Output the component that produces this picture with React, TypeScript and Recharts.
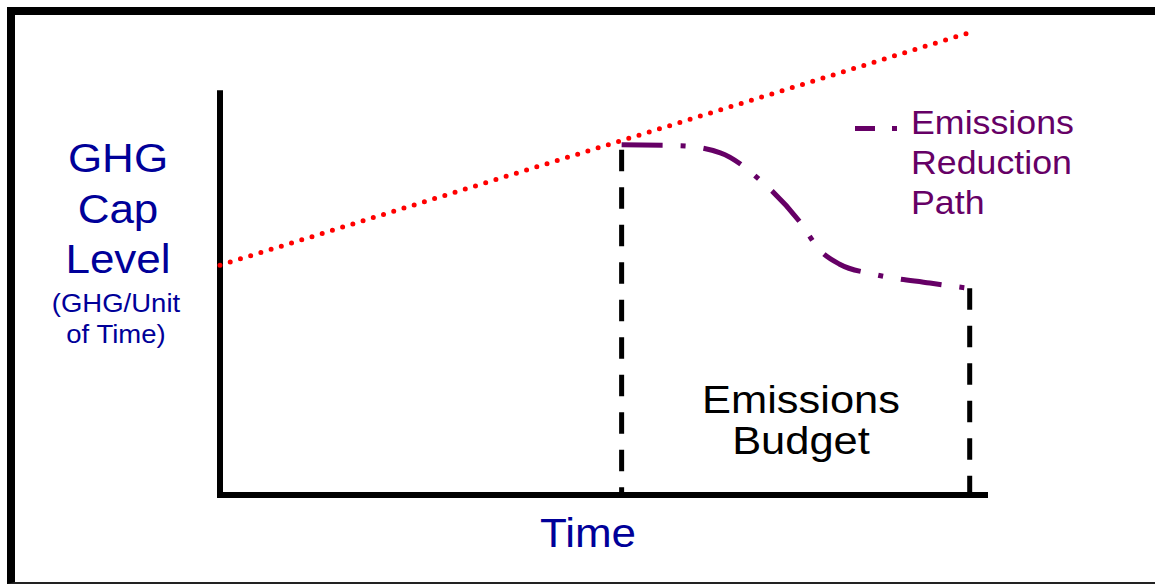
import { ComposedChart, Line, XAxis, YAxis, ReferenceLine } from "recharts";

// cap level over time (red dotted line)
const capTime = [0, 97.8];
const capLevel = [48.9, 98.3];

// emissions reduction path (purple dash-dot)
const pathTime = [52.5, 60.1, 65.4, 70.6, 75.8, 78.4, 81.0, 85.4, 92.8, 97.8];
const pathLevel = [74.5, 74.3, 72.8, 67.0, 58.1, 52.1, 49.1, 47.0, 45.1, 44.0];

// budget window edges
const budgetStart = 52.5;
const budgetEnd = 98.0;
const levelAxisTop = 85.5;

const yLabelMain = ["GHG", "Cap", "Level"];
const yLabelUnit = ["(GHG/Unit", "of Time)"];
const xLabel = "Time";
const budgetLabel = ["Emissions", "Budget"];
const legendLabel = ["Emissions", "Reduction", "Path"];

const FONT = '"Liberation Sans", Arial, sans-serif';
const NAVY = "#000099";
const PURPLE = "#660066";
const STRETCH = "scaleX(1.1)";

const capData = capTime.map((t, i) => ({ t, v: capLevel[i] }));
const pathData = pathTime.map((t, i) => ({ t, v: pathLevel[i] }));
const startEdge = [
  { t: budgetStart, v: pathLevel[0] },
  { t: budgetStart, v: 0 },
];
const endEdge = [
  { t: budgetEnd, v: pathLevel[pathLevel.length - 1] },
  { t: budgetEnd, v: 0 },
];

function TextBlock({
  lines,
  cx,
  left,
  top,
  size,
  lineHeight,
  color,
}: {
  lines: string[];
  cx?: number;
  left?: number;
  top: number;
  size: number;
  lineHeight: number;
  color: string;
}) {
  const centered = cx !== undefined;
  const w = 300;
  return (
    <div
      style={{
        position: "absolute",
        left: centered ? cx - w / 2 : left,
        top,
        width: w,
        textAlign: centered ? "center" : "left",
        fontFamily: FONT,
        fontSize: size,
        lineHeight: `${lineHeight}px`,
        color,
        whiteSpace: "nowrap",
        transform: STRETCH,
        transformOrigin: centered ? "center" : "left",
        pointerEvents: "none",
      }}
    >
      {lines.map((l) => (
        <div key={l}>{l}</div>
      ))}
    </div>
  );
}

export default function App() {
  return (
    <div
      style={{
        position: "absolute",
        left: 0,
        top: 0,
        width: 1155,
        height: 585,
        overflow: "hidden",
        background: "#fff",
      }}
    >
      <div
        style={{
          position: "absolute",
          left: 7,
          top: 7,
          width: 1200,
          height: 577,
          boxSizing: "border-box",
          borderTop: "8px solid #000",
          borderLeft: "8px solid #000",
          borderBottom: "2px solid #222",
        }}
      />

      <div style={{ position: "absolute", left: 0, top: 0 }}>
        <ComposedChart
          width={1155}
          height={585}
          margin={{ top: 25, right: 170, bottom: 0, left: 220 }}
        >
          <XAxis
            type="number"
            dataKey="t"
            domain={[0, 100]}
            height={90}
            tick={false}
            tickLine={false}
            axisLine={{ stroke: "#000", strokeWidth: 6, strokeLinecap: "square" }}
          />
          <YAxis type="number" dataKey="v" domain={[0, 100]} hide />

          <ReferenceLine
            segment={[
              { x: 0, y: 0 },
              { x: 0, y: levelAxisTop },
            ]}
            stroke="#000"
            strokeWidth={6}
            strokeLinecap="square"
          />

          <Line
            data={startEdge}
            dataKey="v"
            type="linear"
            stroke="#000"
            strokeWidth={5}
            strokeDasharray="21.5 16"
            strokeDashoffset={-5}
            dot={false}
            activeDot={false}
            isAnimationActive={false}
          />
          <Line
            data={endEdge}
            dataKey="v"
            type="linear"
            stroke="#000"
            strokeWidth={5}
            strokeDasharray="21.5 16"
            dot={false}
            activeDot={false}
            isAnimationActive={false}
          />
          <Line
            data={capData}
            dataKey="v"
            type="linear"
            stroke="#ff0000"
            strokeWidth={5}
            strokeDasharray="0 10.7"
            strokeLinecap="round"
            dot={false}
            activeDot={false}
            isAnimationActive={false}
          />
          <Line
            data={pathData}
            dataKey="v"
            type="monotone"
            stroke={PURPLE}
            strokeWidth={5}
            strokeDasharray="41 18 5 18"
            dot={false}
            activeDot={false}
            isAnimationActive={false}
          />
        </ComposedChart>
      </div>

      <TextBlock lines={yLabelMain} cx={118} top={133} size={40} lineHeight={50.5} color={NAVY} />
      <TextBlock lines={yLabelUnit} cx={116} top={288} size={25} lineHeight={31} color={NAVY} />
      <TextBlock lines={[xLabel]} cx={588} top={512} size={40} lineHeight={42} color={NAVY} />
      <TextBlock lines={budgetLabel} cx={801} top={379} size={39.5} lineHeight={41} color="#000" />
      <TextBlock lines={legendLabel} left={911} top={103} size={32.5} lineHeight={40} color={PURPLE} />

      <svg
        width={60}
        height={20}
        style={{ position: "absolute", left: 845, top: 119 }}
      >
        <line
          x1={10}
          y1={9.5}
          x2={52}
          y2={9.5}
          stroke={PURPLE}
          strokeWidth={5}
          strokeDasharray="20 17 5 50"
        />
      </svg>
    </div>
  );
}
